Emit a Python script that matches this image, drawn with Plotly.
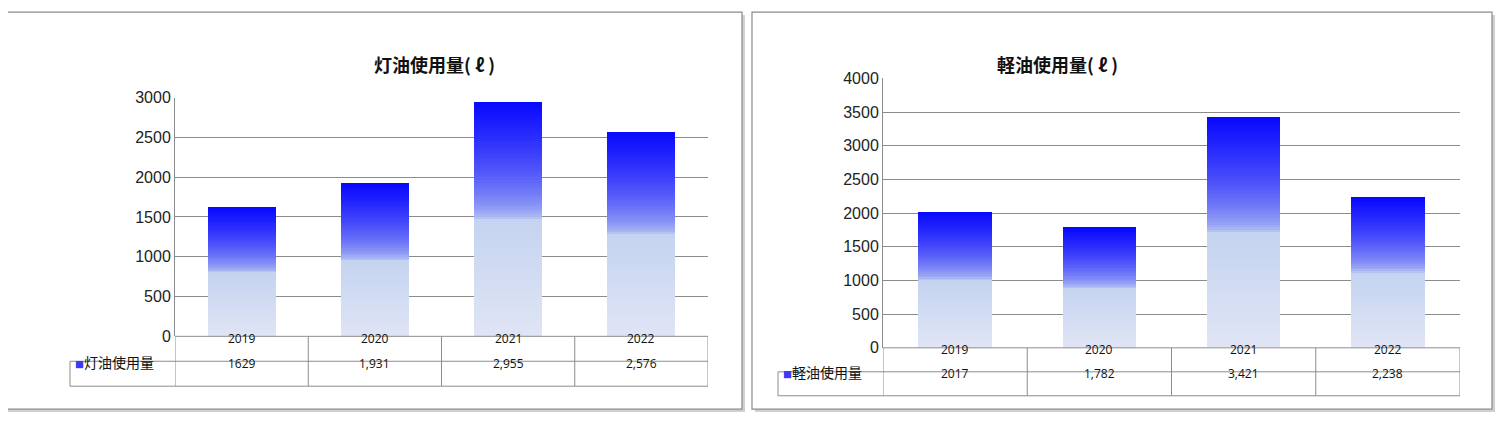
import plotly.graph_objects as go

W, H = 1488, 415  # page keeps an 8px body margin
OFF = 8

years = ["2019", "2020", "2021", "2022"]
kerosene = [1629, 1931, 2955, 2576]
kerosene_labels = ["1629", "1,931", "2,955", "2,576"]
diesel = [2017, 1782, 3421, 2238]
diesel_labels = ["2017", "1,782", "3,421", "2,238"]

panels = [
    dict(title="灯油使用量( ℓ )", name="灯油使用量", values=kerosene, labels=kerosene_labels,
         box=(4, 4, 742, 418), plot=(175, 708, 93, 342), label_left=70, table_bottom=394,
         yrange=[0, 3000], title_x=372, ax="", ay="y"),
    dict(title="軽油使用量( ℓ )", name="軽油使用量", values=diesel, labels=diesel_labels,
         box=(752, 4, 1492, 418), plot=(883, 1460, 73, 354), label_left=778, table_bottom=404,
         yrange=[0, 4000], title_x=1120, ax="2", ay="y2"),
]

N = 90
def seg_color(f):
    c0, c1, c2 = (224, 229, 245), (196, 211, 240), (8, 8, 255)
    if f < 0.5:
        t = f / 0.5
        a, b = c0, c1
    else:
        t = ((f - 0.5) / 0.5) ** 0.55
        a, b = c1, c2
    return "rgb(%d,%d,%d)" % tuple(round(a[i] + (b[i] - a[i]) * t) for i in range(3))

px = lambda x: (x - OFF) / W
py = lambda y: 1 - (y - OFF) / H

fig = go.Figure()
shapes, annotations = [], []
grid = "#8c8c8c"

for p in panels:
    xa = "x" + p["ax"]
    ya = p["ay"]
    for k in range(N):
        fig.add_trace(go.Bar(x=years, y=[v / N for v in p["values"]], xaxis=xa, yaxis=ya,
                             marker=dict(color=seg_color((k + 0.5) / N), line=dict(width=0)),
                             width=0.51, showlegend=False, hoverinfo="skip"))
    x0, y0, x1, y1 = p["box"]
    l, r, t, b = p["plot"]
    # panel frame with shadow
    shapes.append(dict(type="rect", xref="paper", yref="paper", x0=px(x0 + 3), x1=px(x1 + 3),
                       y0=py(y1 + 3), y1=py(y0 + 3), line=dict(width=0), fillcolor="#d0d0d0", layer="below"))
    shapes.append(dict(type="rect", xref="paper", yref="paper", x0=px(x0), x1=px(x1),
                       y0=py(y1), y1=py(y0), line=dict(color="#8a8a8a", width=1.2), fillcolor="white", layer="below"))
    # title
    annotations.append(dict(text="<b>" + p["title"] + "</b>", xref="paper", yref="paper",
                            x=px(p["title_x"]), y=py(42), showarrow=False,
                            font=dict(size=18, family="Noto Sans CJK JP", color="#111")))
    # data table
    tb = p["table_bottom"]
    mid = (b + tb) / 2
    for yy in (b, mid, tb):
        shapes.append(dict(type="line", xref="paper", yref="paper",
                           x0=px(l if yy == b else p["label_left"]), x1=px(r), y0=py(yy), y1=py(yy),
                           line=dict(color=grid, width=1)))
    shapes.append(dict(type="line", xref="paper", yref="paper", x0=px(p["label_left"]), x1=px(p["label_left"]),
                       y0=py(mid), y1=py(tb), line=dict(color=grid, width=1)))
    for i in range(len(years) + 1):
        shapes.append(dict(type="line", xref=xa, yref="paper", x0=i - 0.5, x1=i - 0.5,
                           y0=py(tb), y1=py(b), line=dict(color=grid, width=1)))
    for i, yr in enumerate(years):
        annotations.append(dict(text=yr, xref=xa, yref="paper", x=i, y=py((b + mid) / 2),
                                showarrow=False, font=dict(size=12, color="#111")))
        annotations.append(dict(text=p["labels"][i], xref=xa, yref="paper", x=i, y=py((mid + tb) / 2),
                                showarrow=False, font=dict(size=12, color="#111")))
    annotations.append(dict(text="<span style='color:#3a3aff;font-size:9px'>■</span>" + p["name"],
                            xref="paper", yref="paper", x=px(p["label_left"] + 3), xanchor="left",
                            y=py((mid + tb) / 2), showarrow=False,
                            font=dict(size=14, family="Noto Sans CJK JP", color="#111")))

annotations.append(dict(text="工場+社有車使用", xref="x2", yref="y2", x="2022", y=diesel[3] + 20,
                        ax=-4, ay=-58, showarrow=True, arrowhead=2, arrowsize=1, arrowwidth=2.5,
                        arrowcolor="#8dc641", bgcolor="#c4d79b", bordercolor="#8dc641", borderwidth=3,
                        width=170, height=36, font=dict(size=15, family="Noto Sans CJK JP", color="#111")))

def yax(p):
    l, r, t, b = p["plot"]
    return dict(domain=[py(b), py(t)], range=p["yrange"], dtick=500, showgrid=True, gridcolor=grid,
                gridwidth=1, showline=True, linecolor=grid, ticks="", zeroline=False,
                tickfont=dict(size=16, family="Liberation Sans", color="#222"), anchor="x" + p["ax"])

def xax(p):
    l, r, t, b = p["plot"]
    return dict(domain=[px(l), px(r)], showticklabels=False, showgrid=False, zeroline=False,
                range=[-0.5, 3.5], anchor=p["ay"])

fig.update_layout(width=W, height=H, margin=dict(l=0, r=0, t=0, b=0), barmode="stack", bargap=0,
                  paper_bgcolor="white", plot_bgcolor="rgba(0,0,0,0)",
                  xaxis=xax(panels[0]), yaxis=yax(panels[0]),
                  xaxis2=xax(panels[1]), yaxis2=yax(panels[1]),
                  shapes=shapes, annotations=annotations)

fig.write_html("out.html")
